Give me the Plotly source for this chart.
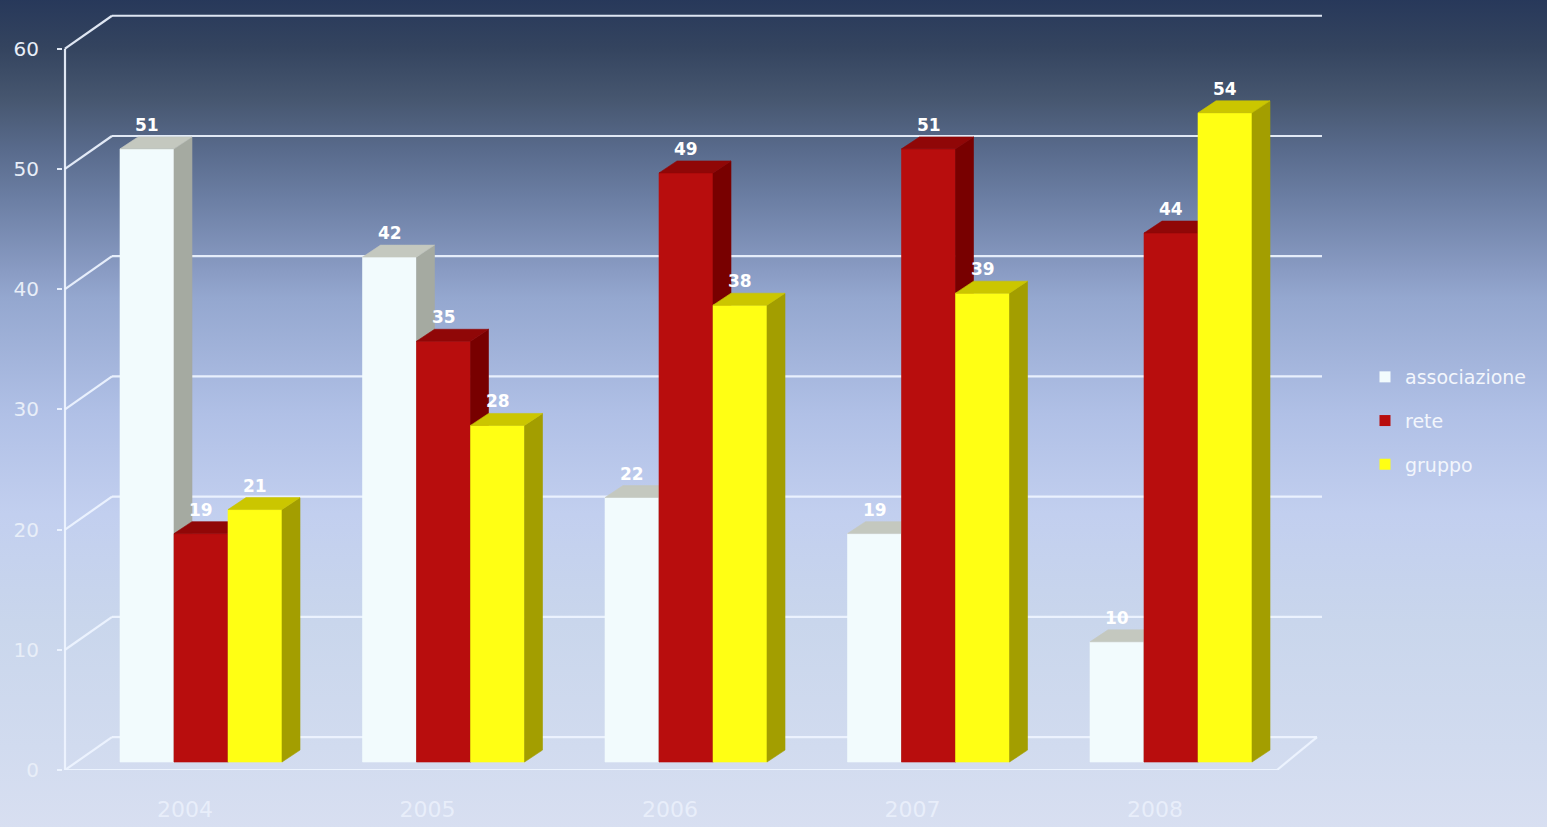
import base64
import plotly.graph_objects as go

# ---------------- data ----------------
years = ["2004", "2005", "2006", "2007", "2008"]
associazione = [51, 42, 22, 19, 10]
rete = [19, 35, 49, 51, 44]
gruppo = [21, 28, 38, 39, 54]
series_names = ["associazione", "rete", "gruppo"]
y_ticks = [0, 10, 20, 30, 40, 50, 60]

# ---------------- styling / geometry ----------------
W, H = 1547, 827
L, R, T, B = 63, 1330, 5, 773          # plot area in px
PX_PER_X = 242.5                        # px per category
FIRST_CENTER_PX = 201
PX_PER_Y = 12.07

x0 = -(FIRST_CENTER_PX - L) / PX_PER_X
x1 = x0 + (R - L) / PX_PER_X
y1 = (B - T) / PX_PER_Y


def ux(px):
    return px / PX_PER_X


def uy(px):
    return px / PX_PER_Y


BAR_W = ux(54)
DEPTH_X, DEPTH_Y = ux(18), uy(12)
FRONT_BASE = uy(8)
BACK_X, BACK_Y = ux(47), uy(33)
AXIS_X = x0 + ux(2)
GRID_END = x0 + ux(1322 - L)
FLOOR_FRONT_END = x0 + ux(1277 - L)
FLOOR_BACK_END = x0 + ux(1317 - L)

colors = {
    "associazione": dict(front="#f2fbfd", side="#a5aaa1", top="#c4c8bf"),
    "rete": dict(front="#b80d0d", side="#780000", top="#900707"),
    "gruppo": dict(front="#ffff14", side="#a39e00", top="#cbc600"),
}
GRID_COLOR = "rgba(238,244,255,0.92)"
FONT = "DejaVu Sans"

fig = go.Figure()


def poly(xs, ys, color):
    return go.Scatter(x=xs, y=ys, mode="lines", fill="toself", fillcolor=color,
                      line=dict(width=0.6, color=color), hoverinfo="skip",
                      showlegend=False)


annotations = []
all_series = [associazione, rete, gruppo]
for k, (name, vals) in enumerate(zip(series_names, all_series)):
    c = colors[name]
    fx, fy, sx, sy, tx, ty = [], [], [], [], [], []
    for i, v in enumerate(vals):
        xl = i + (k - 1.5) * BAR_W
        xr = xl + BAR_W
        b = FRONT_BASE
        t = FRONT_BASE + v
        fx += [xl, xr, xr, xl, xl, None]
        fy += [b, b, t, t, b, None]
        sx += [xr, xr + DEPTH_X, xr + DEPTH_X, xr, xr, None]
        sy += [b, b + DEPTH_Y, t + DEPTH_Y, t, b, None]
        tx += [xl, xr, xr + DEPTH_X, xl + DEPTH_X, xl, None]
        ty += [t, t, t + DEPTH_Y, t + DEPTH_Y, t, None]
        annotations.append(dict(
            x=(xl + xr) / 2, y=t + DEPTH_Y, xref="x", yref="y", text=str(v),
            showarrow=False, yanchor="bottom", yshift=0,
            font=dict(family=FONT, size=17, color="white", weight="bold")))
    fig.add_trace(poly(fx, fy, c["front"]))
    fig.add_trace(poly(sx, sy, c["side"]))
    fig.add_trace(poly(tx, ty, c["top"]))

# legend entries
for name in series_names:
    fig.add_trace(go.Scatter(
        x=[None], y=[None], mode="markers", name=name, legendgroup=name,
        marker=dict(symbol="square", size=11, color=colors[name]["front"])))

# ---------------- frame (3D walls) ----------------
shapes = []
for v in y_ticks:
    shapes.append(dict(type="line", xref="x", yref="y", layer="below",
                       x0=AXIS_X, y0=v, x1=AXIS_X + BACK_X, y1=v + BACK_Y,
                       line=dict(color=GRID_COLOR, width=2.2)))
    end = FLOOR_BACK_END if v == 0 else GRID_END
    shapes.append(dict(type="line", xref="x", yref="y", layer="below",
                       x0=AXIS_X + BACK_X, y0=v + BACK_Y, x1=end, y1=v + BACK_Y,
                       line=dict(color=GRID_COLOR, width=2.2)))
shapes.append(dict(type="line", xref="x", yref="y", layer="below",
                   x0=AXIS_X, y0=0, x1=AXIS_X, y1=y_ticks[-1],
                   line=dict(color=GRID_COLOR, width=2.2)))
shapes.append(dict(type="line", xref="x", yref="y", layer="below",
                   x0=AXIS_X, y0=0, x1=FLOOR_FRONT_END, y1=0,
                   line=dict(color=GRID_COLOR, width=2.2)))
shapes.append(dict(type="line", xref="x", yref="y", layer="below",
                   x0=FLOOR_FRONT_END, y0=0, x1=FLOOR_BACK_END, y1=BACK_Y,
                   line=dict(color=GRID_COLOR, width=2.2)))

# ---------------- background gradient ----------------
stops = [(0.0, "#27385a"), (0.06, "#34445f"), (0.12, "#46566f"),
         (0.18, "#586a8b"), (0.24, "#6b7ea3"), (0.33, "#8a9cc4"),
         (0.36, "#94a7cf"), (0.5, "#b0c0e6"), (0.62, "#c2cfef"),
         (0.75, "#c9d6ec"), (0.9, "#d1dbef"), (1.0, "#d8dff1")]
stop_xml = "".join(f'<stop offset="{o}" stop-color="{c}"/>' for o, c in stops)
svg = (f'<svg xmlns="http://www.w3.org/2000/svg" width="{W}" height="{H}" '
       f'viewBox="0 0 {W} {H}" preserveAspectRatio="none"><defs>'
       f'<linearGradient id="g" x1="0" y1="0" x2="0" y2="1">{stop_xml}'
       f'</linearGradient></defs><rect x="0" y="0" width="{W}" height="{H}" '
       f'fill="url(#g)"/></svg>')
src = "data:image/svg+xml;base64," + base64.b64encode(svg.encode()).decode()
pw, ph = R - L, B - T

fig.update_layout(
    width=W, height=H,
    margin=dict(l=L, r=W - R, t=T, b=H - B, pad=0),
    paper_bgcolor="#d8dff1",
    plot_bgcolor="rgba(0,0,0,0)",
    images=[dict(source=src, xref="paper", yref="paper",
                 x=-(L + 2) / pw, y=1 + (T + 2) / ph,
                 sizex=(W + 6) / pw, sizey=(H + 8) / ph,
                 xanchor="left", yanchor="top", sizing="stretch",
                 layer="below")],
    shapes=shapes,
    annotations=annotations,
    showlegend=True,
    legend=dict(xref="container", yref="container",
                x=1365 / W, y=1 - 358 / H, xanchor="left", yanchor="top",
                bgcolor="rgba(0,0,0,0)", itemwidth=30,
                traceorder="grouped", tracegroupgap=16,
                font=dict(family=FONT, size=19, color="#f3f6fc")),
    xaxis=dict(range=[x0, x1], showgrid=False, zeroline=False, showline=False,
               tickmode="array", tickvals=list(range(len(years))),
               ticktext=years, ticks="", ticklabelshift=-16,
               ticklabelstandoff=24,
               tickfont=dict(family=FONT, size=22, color="rgba(236,241,252,0.85)")),
    yaxis=dict(range=[0, y1], showgrid=False, zeroline=False, showline=False,
               tickmode="array", tickvals=y_ticks,
               ticks="outside", ticklen=5, tickwidth=2, tickcolor=GRID_COLOR,
               ticklabelstandoff=14,
               tickfont=dict(family=FONT, size=20, color="#e8eef8")),
    hovermode=False,
)

fig.write_html("out.html")
